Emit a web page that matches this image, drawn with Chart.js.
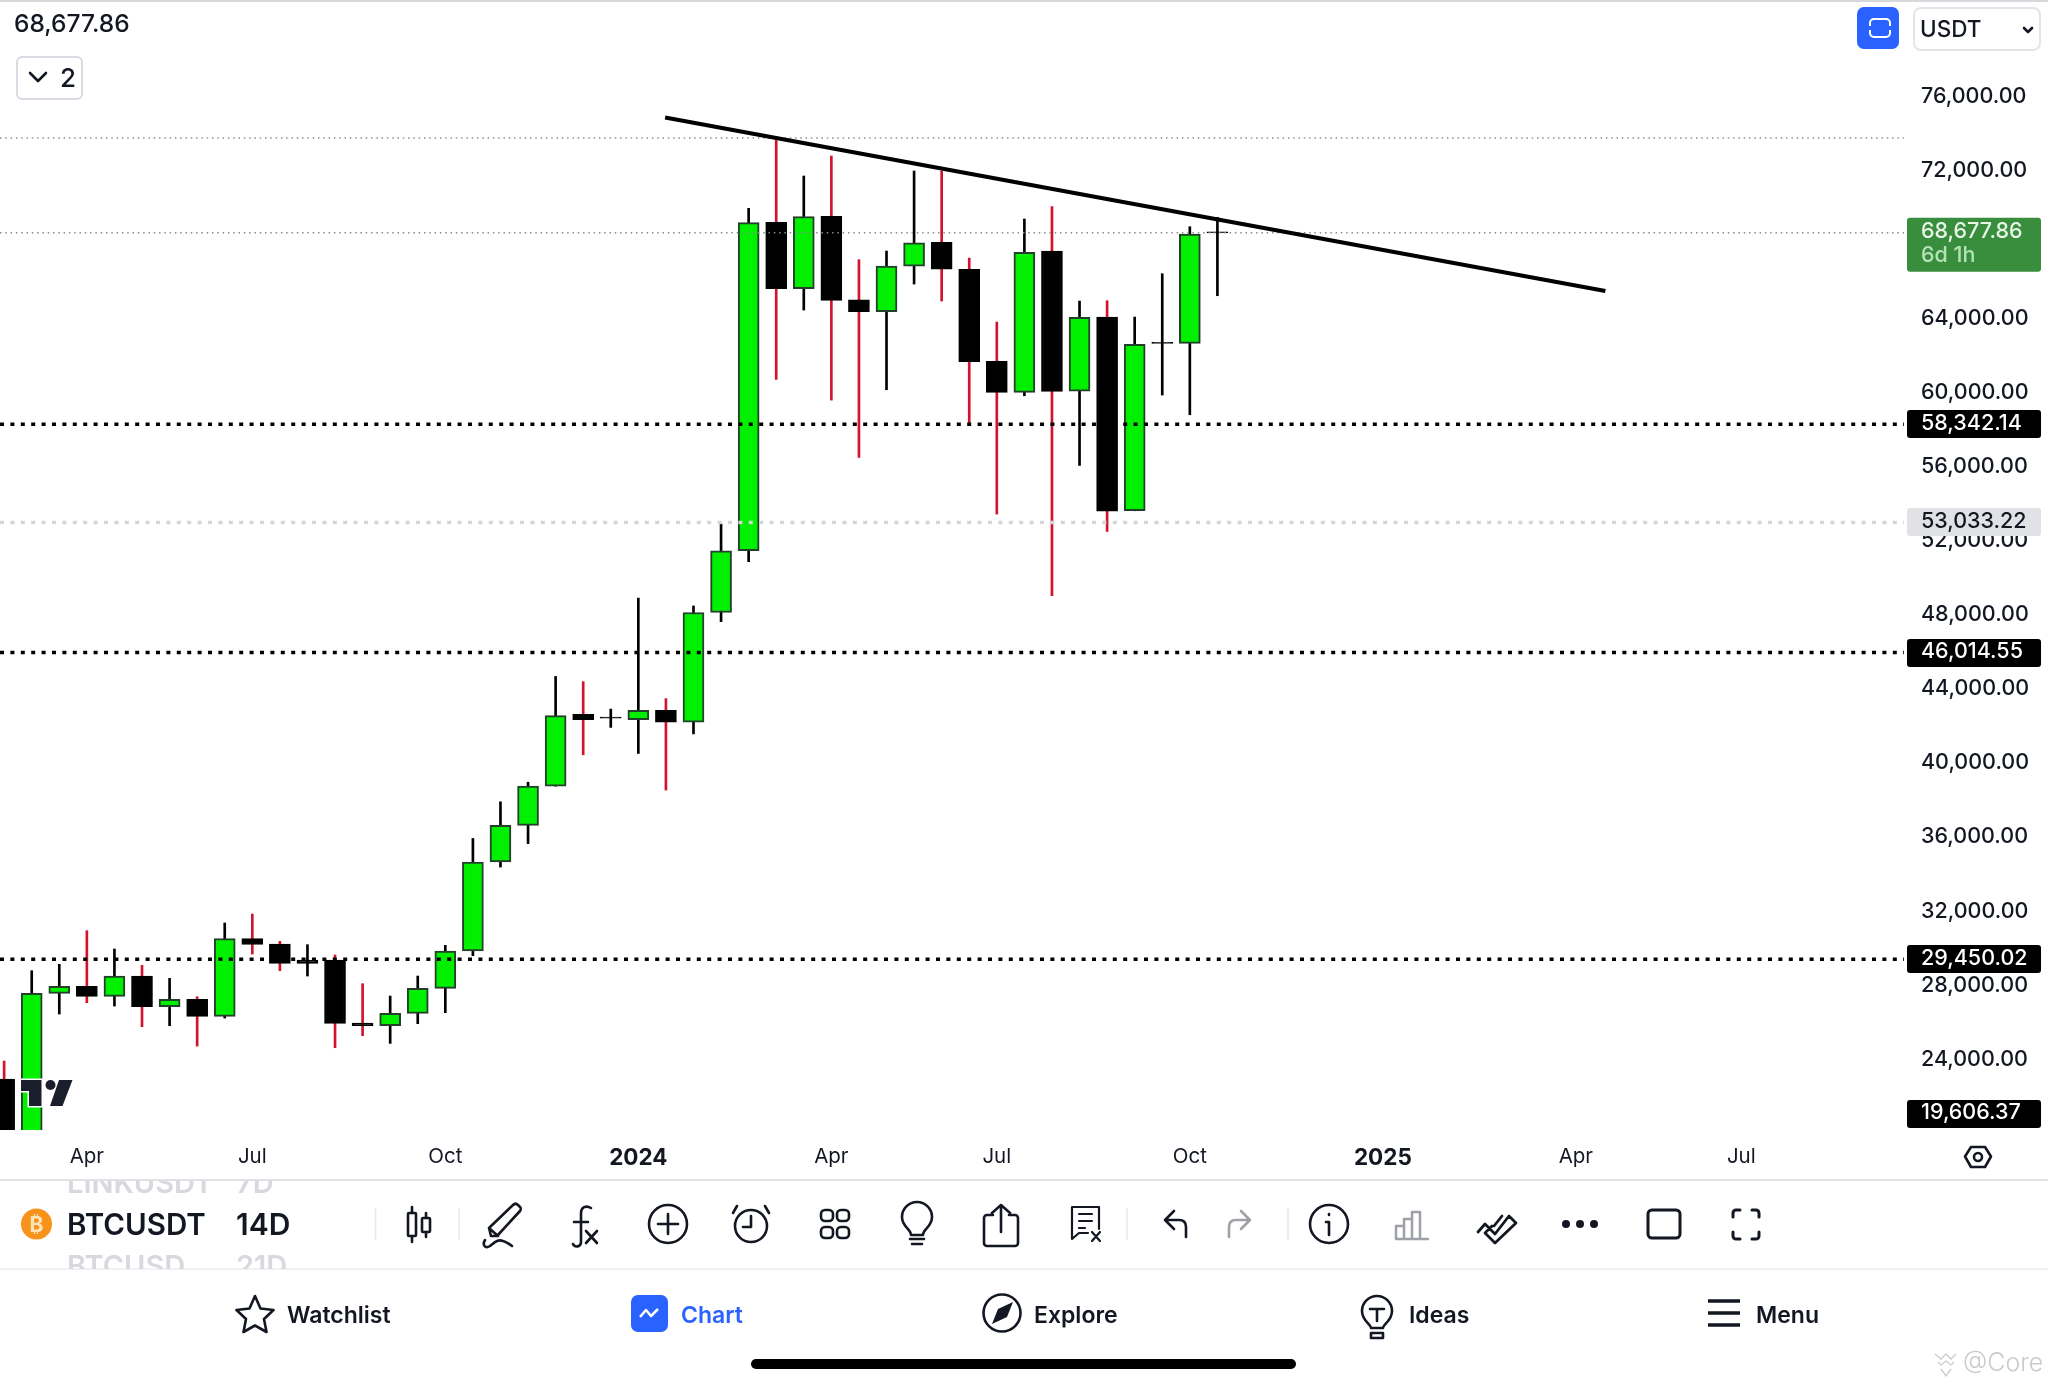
<!DOCTYPE html>
<html><head><meta charset="utf-8">
<script src="https://cdn.jsdelivr.net/npm/chart.js@4"></script>
<style>
html,body{margin:0;padding:0;background:#fff;width:2048px;height:1382px;overflow:hidden}
#c{position:absolute;left:0;top:0}
#o{position:absolute;left:0;top:0;pointer-events:none}
text{font-family:Inter,sans-serif}
.i{fill:none;stroke:#131722;stroke-width:2.6;stroke-linecap:round;stroke-linejoin:round}
.t{font-size:23px;font-weight:600;fill:#131722}
</style></head><body>
<canvas id="c" width="2048" height="1179"></canvas>
<svg id="o" width="2048" height="1382" viewBox="0 0 2048 1382">
<defs><clipPath id="sc"><rect x="0" y="1181" width="300" height="88"/></clipPath></defs>
<rect x="0" y="0" width="2048" height="2" fill="#d6d8dc"/>
<text x="14" y="32" font-size="24.500" font-weight="500" fill="#131722">68,677.86</text>
<rect x="17" y="57" width="65" height="42" rx="5" fill="#fff" stroke="#d8dbe3" stroke-width="2"/>
<path class="i" d="M30 73l8 8 8-8" stroke-width="3"/>
<text x="60" y="87" font-size="26" font-weight="500" fill="#131722">2</text>
<rect x="1857" y="7" width="42" height="42" rx="7" fill="#2962ff"/>
<path d="M1870 26v-3a4 4 0 0 1 4-4h12a4 4 0 0 1 4 4v3M1870 30v3a4 4 0 0 0 4 4h12a4 4 0 0 0 4-4v-3" fill="none" stroke="#fff" stroke-width="2"/>
<rect x="1914" y="8" width="126" height="42" rx="7" fill="#fff" stroke="#e3e5ea" stroke-width="2"/>
<text x="1920" y="37" font-size="22.500" font-weight="500" fill="#131722">USDT</text>
<path class="i" d="M2024 28l4 4 4-4" stroke-width="2"/>

<!-- logo -->
<path d="M21 1080h20.5v26h-12.500v-15h-8zM59 1080h13.500l-10 26h-12.500z" fill="#1b1e2b" stroke="#fff" stroke-width="3" paint-order="stroke"/>
<circle cx="50.500" cy="1085" r="5" fill="#1b1e2b"/>

<!-- settings hexagon -->
<path class="i" stroke-width="2" d="M1971 1147h14l6 9.500-6 10.500h-14l-6-10.500z"/>
<circle class="i" cx="1978" cy="1157" r="4" stroke-width="2"/>

<!-- toolbar -->
<rect x="0" y="1179" width="2048" height="2" fill="#dfe1e5"/>
<rect x="0" y="1268" width="2048" height="2" fill="#f0f1f3"/>
<g clip-path="url(#sc)" font-weight="600" font-size="29" fill="#d7d9de">
<text x="67" y="1193">LINKUSDT</text><text x="236" y="1193">7D</text>
<text x="67" y="1276">BTCUSD</text><text x="236" y="1276">21D</text>
</g>
<circle cx="36.500" cy="1224" r="15.500" fill="#f7931a"/>
<text x="36.500" y="1232" font-size="21" font-weight="700" text-anchor="middle" fill="#fde3b8">₿</text>
<text x="67" y="1235" font-size="29.500" font-weight="600" fill="#131722">BTCUSDT</text>
<text x="236" y="1235" font-size="30" font-weight="600" fill="#131722">14D</text>
<path stroke="#e6e7ea" stroke-width="1.500" d="M375.500 1208v32M459 1208v32M1127 1208v32M1288 1208v32"/>
<g class="i">
<rect x="408" y="1213" width="8" height="23" rx="1"/><path d="M412 1207v6M412 1236v6"/>
<rect x="422" y="1218" width="8" height="14" rx="1"/><path d="M426 1213v5M426 1232v5"/>
<path d="M491 1236l-2-8 24-23c2-2 4-1 5 0l2 2c1 1 1 3 0 4l-23 25zM489 1228l9 8M485 1240c-3 5 0 9 5 6 5-4 8-7 13-5 4 1 6 3 9 5"/>
<path d="M591 1208c-5-3-10-1-10 5v29c0 5-6 6-8 2M574 1222h14M586 1231l11 12M597 1231l-11 12"/>
<circle cx="668" cy="1224" r="19"/><path d="M668 1214v20M658 1224h20"/>
<circle cx="751" cy="1226" r="16"/><path d="M751 1216v11h-8M737 1206l-4 7M765 1206l4 7"/>
<rect x="821" y="1210" width="12" height="11" rx="4"/><rect x="837" y="1210" width="12" height="11" rx="4"/>
<rect x="821" y="1227" width="12" height="11" rx="4"/><rect x="837" y="1227" width="12" height="11" rx="4"/>
<path d="M911 1235c0-6-9-8-9-18a15 15 0 0 1 30 0c0 10-9 12-9 18zM910 1239h14M912 1244h10"/>
<path d="M993 1215h-6a3 3 0 0 0-3 3v25a3 3 0 0 0 3 3h28a3 3 0 0 0 3-3v-25a3 3 0 0 0-3-3h-6M1001 1232v-27M992 1213l9-8 9 8"/>
<path d="M1072 1207h27v22M1072 1207v32l7-6h9M1079 1214h13M1079 1221h13M1079 1228h6M1092 1232l8 9M1100 1232l-8 9" stroke-width="2.200"/>
<path d="M1165 1220l9-9M1165 1220l9 9M1165 1220h14c5 0 7 3 7 7v10"/>
<circle cx="1329" cy="1224" r="19"/><path d="M1329 1222v13M1326 1222h3M1329 1214v1"/>
<path d="M1478 1232l7-8 10 10 14-18 7 7-21 20-10-10 7-7M1502 1216l-8 10" stroke-width="2.800"/>
<rect x="1648" y="1210" width="32" height="28" rx="4" stroke-width="3"/>
<path d="M1733 1217v-4a3 3 0 0 1 3-3h4M1752 1210h4a3 3 0 0 1 3 3v4M1759 1232v4a3 3 0 0 1-3 3h-4M1740 1239h-4a3 3 0 0 1-3-3v-4" stroke-width="3"/>
</g>
<g class="i" style="stroke:#9ea1a7"><path d="M1250 1220l-9-9M1250 1220l-9 9M1250 1220h-14c-5 0-7 3-7 7v10"/>
<path d="M1396 1239v-13h8v13zM1404 1239v-20h8v20zM1412 1239v-27h8v27zM1396 1239h32" stroke-width="2.500"/></g>
<circle cx="1566" cy="1224" r="4" fill="#131722"/><circle cx="1580" cy="1224" r="4" fill="#131722"/><circle cx="1594" cy="1224" r="4" fill="#131722"/>

<!-- nav -->
<path class="i" d="M255 1296l5.500 12.500 13 1.500-9.500 9 2.500 13-11.500-6.500-11.500 6.500 2.500-13-9.500-9 13-1.500z"/>
<text x="287" y="1323" class="t">Watchlist</text>
<rect x="631" y="1295" width="37" height="37" rx="7" fill="#2962ff"/>
<path d="M640 1317l6-7 5 6 7-7" fill="none" stroke="#fff" stroke-width="2.500" stroke-linejoin="round"/>
<text x="681" y="1323" class="t" style="fill:#2962ff">Chart</text>
<circle class="i" cx="1002" cy="1313" r="18.500"/>
<path d="M1013 1302l-15 7-6 15 15-7z" fill="#131722"/>
<text x="1034" y="1323" class="t">Explore</text>
<path class="i" d="M1371 1328c0-4-9-7-9-17a15 15 0 0 1 30 0c0 10-9 13-9 17zM1371 1333h12v5h-12zM1370 1309h14M1377 1309v12"/>
<text x="1409" y="1323" class="t">Ideas</text>
<path d="M1708 1301h32M1708 1313h32M1708 1325h32" stroke="#131722" stroke-width="3.500"/>
<text x="1756" y="1323" class="t">Menu</text>
<rect x="751" y="1359" width="545" height="10" rx="5" fill="#000"/>
<path d="M1935 1354l6 5 5-5 5 5 5-5M1938 1362l3 3 5-4 5 4 3-3M1941 1369l5 7 5-7" fill="none" stroke="#c9cbce" stroke-width="1.300"/>
<text x="1963" y="1371" font-size="25" font-weight="300" fill="#c9cbce">@Core</text>
</svg>
<script>
// Bi-weekly BTCUSDT candles (oldest first)
const opens  = [22986,19600,27612,27990,27450,28548,26892,27288,26370,30564,30276,29412,29412,26010,25866,26532,27882,29898,34711,36685,38800,42677,42530,42395,42890,42255,48176,51506,69236,65654,69560,65060,64412,66878,68156,66698,61730,60056,67688,60128,64124,53666,62760,62702,68720];
const closes = [19000,27612,27990,27450,28548,26892,27288,26370,30564,30258,29232,29232,25992,25866,26532,27882,29898,34703,36685,38800,42607,42395,42470,42890,42255,48176,51506,69218,65654,69542,65024,64412,66878,68138,66716,61712,60056,67616,60110,64106,53648,62648,62700,68606,68677.86];
const highs  = [23958,28836,29178,30996,30006,29124,28422,27432,31410,31896,30420,30240,29682,28134,27468,28548,30204,35975,37954,39011,44722,44440,42960,48952,43525,48529,52946,69992,73718,71738,72818,67220,67688,72008,72008,67310,63854,69416,70082,64988,65006,64124,66464,69002,69506];
const lows   = [19000,19000,26496,27108,26928,25812,25866,24768,26280,29736,28836,28548,24678,25326,24912,25974,26568,29646,34429,35698,38800,40492,41970,40563,38589,41620,47683,50912,60758,64502,59642,56546,60200,65906,64988,58346,53486,59876,49076,56114,52550,53666,59912,58850,65276];
// candles whose tiny body is black though the wick is black too
const blackWickDownCandles = [10+1,21+1,41+1,43+1];

const tickPositions = [3,9,16,23,30,36,43,50,57,63];
const tickLabels = ['Apr','Jul','Oct','2024','Apr','Jul','Oct','2025','Apr','Jul'];
const boldTickLabels = ['2024','2025'];
const priceTicks = [24000,28000,32000,36000,40000,44000,48000,52000,56000,60000,64000,68000,72000,76000].filter(v=>v!==68000);

const blackLevels = [58342.14,46014.55,29450.02];
const greyLevel = 53033.22;
const lastPrice = 68677.86;
const athLevel = 73790;
const lowTag = 19606.37;
const countdown = '6d 1h';
const trendX = [23.97,58.07];
const trendY = [74897,65530];

const xMin=-0.15, xMax=68.9, yMin=20236, yMax=81241;
const F="Inter, sans-serif";
const INK='#131722', GREEN='#00f000', EDGE='#23402a', RED='#d2122e';
const fmt=v=>v.toLocaleString('en-US',{minimumFractionDigits:2,maximumFractionDigits:2});
const idx=opens.map((_,i)=>i);
const down=i=>closes[i]<opens[i];
const redWick=i=>down(i)&&!blackWickDownCandles.includes(i);
const level=(v,color,width,dash)=>({type:'line',data:[{x:xMin,y:v},{x:xMax,y:v}],borderColor:color,borderWidth:width,borderDash:dash,pointRadius:0,order:2,fill:false});
const noPad=a=>{a.paddingTop=a.paddingBottom=a.paddingLeft=a.paddingRight=0};

const tagPlugin={id:'tags',afterDraw(chart){
  const c=chart.ctx,s=chart.scales.y;
  const L=1907,W=134,X=1921;
  function tag(v,bg,fg,clampY){
    let y=s.getPixelForValue(v); if(clampY!==undefined) y=clampY;
    c.fillStyle=bg;c.beginPath();c.roundRect(L,Math.round(y-14),W,28,3);c.fill();
    c.fillStyle=fg;c.font='500 21.5px '+F;c.textAlign='left';c.textBaseline='middle';
    c.fillText(fmt(v),X,y-1);
  }
  c.save();
  blackLevels.forEach(v=>tag(v,'#000','#fff'));
  tag(greyLevel,'#e0e2e6',INK);
  tag(lowTag,'#000','#fff',chart.chartArea.bottom-16);
  const y=s.getPixelForValue(lastPrice);
  c.fillStyle='#388e3c';c.beginPath();c.roundRect(L,y-15,W,54,3);c.fill();
  c.textAlign='left';c.textBaseline='middle';c.font='500 21.5px '+F;
  c.fillStyle='#e8f5e9';c.fillText(fmt(lastPrice),X,y-1);
  c.fillStyle='#b5e3b7';c.fillText(countdown,X,y+23);
  c.restore();
}};

new Chart(document.getElementById('c'),{
  type:'bar',
  data:{datasets:[
    {type:'line',data:trendX.map((x,i)=>({x,y:trendY[i]})),borderColor:'#000',borderWidth:4.2,pointRadius:0,order:0,fill:false},
    ...blackLevels.map(v=>level(v,'#000',3.5,[4,6.4])),
    level(greyLevel,'#d3d5d8',3.5,[4,6.4]),
    level(lastPrice,'#7f9283',1.5,[1.5,3.8]),
    level(athLevel,'#8c9094',1.5,[1.5,3.8]),
    {label:'body',data:idx.map(i=>({x:i,y:[opens[i],closes[i]]})),grouped:false,maxBarThickness:21,barPercentage:1,categoryPercentage:1,
      backgroundColor:idx.map(i=>down(i)?'#000':GREEN),borderColor:idx.map(i=>down(i)?'#000':EDGE),borderWidth:2,borderSkipped:false,order:5},
    {label:'wick',data:idx.map(i=>({x:i,y:[lows[i],highs[i]]})),grouped:false,maxBarThickness:2,barPercentage:1,categoryPercentage:1,
      backgroundColor:idx.map(i=>redWick(i)?RED:'#000'),borderWidth:0,order:6}
  ]},
  options:{
    responsive:false,animation:false,devicePixelRatio:1,
    layout:{padding:0},
    plugins:{legend:{display:false},tooltip:{enabled:false}},
    scales:{
      x:{type:'linear',offset:false,min:xMin,max:xMax,grid:{display:false,offset:false,drawTicks:false},border:{display:false},
        afterFit(a){a.height=49;noPad(a)},
        afterBuildTicks(a){a.ticks=tickPositions.map(value=>({value}))},
        ticks:{autoSkip:false,maxRotation:0,includeBounds:false,padding:15,color:INK,
          callback:v=>tickLabels[tickPositions.indexOf(v)]??'',
          font:ctx=>{const t=tickLabels[tickPositions.indexOf(ctx.tick&&ctx.tick.value)];return boldTickLabels.includes(t)?{family:F,size:22.5,weight:'700'}:{family:F,size:20.5,weight:'400'}}}},
      y:{type:'linear',position:'right',min:yMin,max:yMax,grid:{display:false,drawTicks:false},border:{display:false},
        afterFit(a){a.width=144;noPad(a)},
        afterBuildTicks(a){a.ticks=priceTicks.map(value=>({value}))},
        ticks:{autoSkip:false,includeBounds:false,padding:17,labelOffset:-1,color:INK,font:{family:F,size:21.5,weight:'500'},callback:v=>fmt(v)}}
    }
  },
  plugins:[tagPlugin]
});
</script>
</body></html>
